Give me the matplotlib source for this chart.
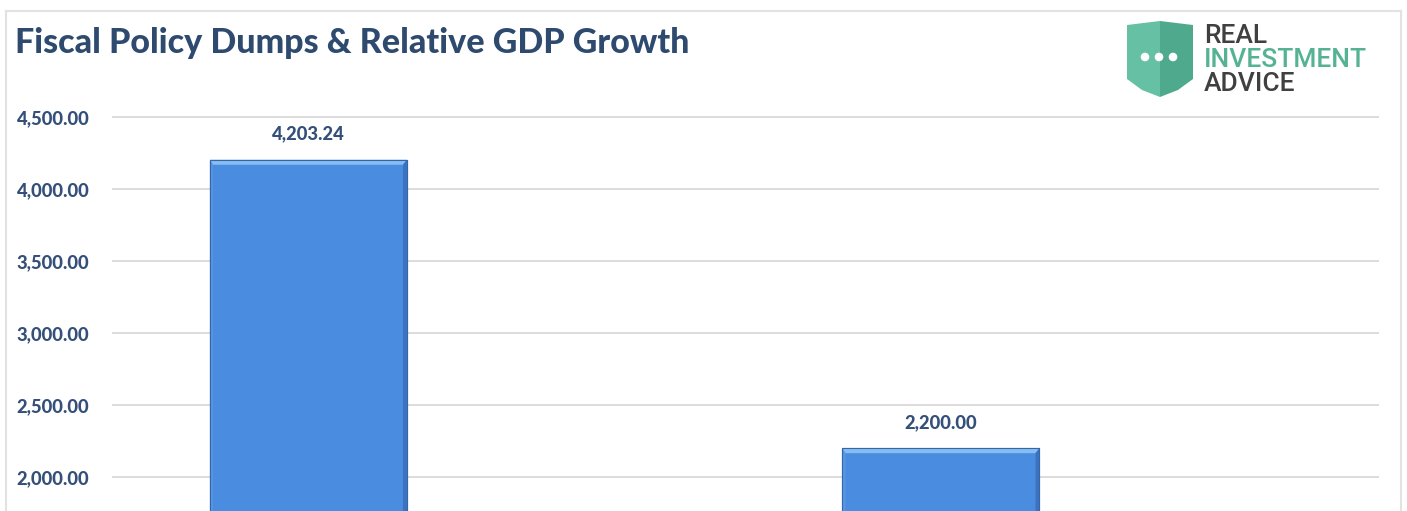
import matplotlib
matplotlib.use("Agg")
import matplotlib.pyplot as plt
from matplotlib.patches import Polygon, Rectangle, Circle

# ---- data ----
categories = ["Period 1", "Period 2"]
values = [4203.24, 2200.00]
value_labels = ["4,203.24", "2,200.00"]
yticks = [2000, 2500, 3000, 3500, 4000, 4500]
ytick_labels = ["2,000.00", "2,500.00", "3,000.00", "3,500.00", "4,000.00", "4,500.00"]
title = "Fiscal Policy Dumps & Relative GDP Growth"

W, H = 1407, 511
DPI = 100
fig = plt.figure(figsize=(W / DPI, H / DPI), dpi=DPI)
fig.patch.set_facecolor("white")

TXT = "#34507A"
TITLE_C = "#2E4A6F"

# pixel geometry of the plot area
ax_l, ax_r = 113, 1378
ax_top, ax_bot = 100, 511
def v_at(ypx):
    return 4500 - (ypx - 117) * 500 / 72

ax = fig.add_axes([ax_l / W, 1 - ax_bot / H, (ax_r - ax_l) / W, (ax_bot - ax_top) / H])
ax.set_xlim(-0.5, len(categories) - 0.5)
ax.set_ylim(v_at(ax_bot), v_at(ax_top))
ax.set_facecolor("none")
for s in ax.spines.values():
    s.set_visible(False)
ax.set_xticks([])
ax.set_yticks(yticks)
ax.set_yticklabels(ytick_labels)
ax.tick_params(axis="y", length=0, pad=17, labelsize=13.2, labelcolor=TXT)
for t in ax.get_yticklabels():
    t.set_fontfamily("Lato")
    t.set_fontweight("black")
for yv in yticks:
    ax.axhline(yv, color="#DCDCDC", lw=1.4, zorder=0, clip_on=False)

# bars
bw = 0.3115
off = -0.191
xs = [i + off for i in range(len(categories))]
bars = ax.bar(xs, values, width=bw, color="#4A8DE0", edgecolor="#3566AA", linewidth=0.8, zorder=2)

# bevel effect
px_x = (len(categories)) / (ax_r - ax_l)
px_y = 500 / 72
for b in bars:
    x0, x1 = b.get_x(), b.get_x() + b.get_width()
    top = b.get_height()
    bot = v_at(ax_bot) - 50
    dy = 5 * px_y
    dxl, dxr = 3 * px_x, 4 * px_x
    ax.add_patch(Polygon([(x0, top), (x1, top), (x1 - dxr, top - dy), (x0 + dxl, top - dy)],
                         closed=True, facecolor="#86BEF1", edgecolor="none", zorder=3))
    ax.add_patch(Polygon([(x0, top), (x0 + dxl, top - dy), (x0 + dxl, bot), (x0, bot)],
                         closed=True, facecolor="#5696E2", edgecolor="none", zorder=3))
    ax.add_patch(Polygon([(x1, top), (x1 - dxr, top - dy), (x1 - dxr, bot), (x1, bot)],
                         closed=True, facecolor="#3C73C0", edgecolor="none", zorder=3))
    ax.add_patch(Rectangle((x0, bot), x1 - x0, top - bot, fill=False, edgecolor="#3566AA",
                           lw=0.8, zorder=4))

for b, lab in zip(bars, value_labels):
    ax.annotate(lab, (b.get_x() + b.get_width() / 2, b.get_height()),
                xytext=(0, 18.5), textcoords="offset points", ha="center", va="center",
                fontsize=13.2, fontweight="black", fontfamily="Lato", color=TXT, zorder=5)

# border of chart box
for xa, ya in (([6, 6], [511, 11]), ([1401, 1401], [511, 11]), ([6, 1401], [11, 11])):
    fig.add_artist(plt.Line2D([x / W for x in xa], [1 - y / H for y in ya],
                              color="#E2E2E2", lw=1.5, transform=fig.transFigure))

# title
fig.text(15 / W, 1 - 43 / H, title, ha="left", va="center", fontsize=24.5,
         fontweight="black", fontfamily="Lato", color=TITLE_C)

# logo
def fp(x, y):
    return (x / W, 1 - y / H)

left_half = [fp(1127, 25), fp(1160, 21), fp(1160, 97), fp(1142, 90), fp(1127, 79)]
right_half = [fp(1160, 21), fp(1193, 25), fp(1193, 79), fp(1178, 90), fp(1160, 97)]
fig.add_artist(Polygon(left_half, closed=True, transform=fig.transFigure,
                       facecolor="#66C0A4", edgecolor="none"))
fig.add_artist(Polygon(right_half, closed=True, transform=fig.transFigure,
                       facecolor="#4FAA8D", edgecolor="none"))
for cx in (1145, 1159, 1173):
    fig.add_artist(Circle((cx / DPI, (H - 57) / DPI), 4.3 / DPI, transform=fig.dpi_scale_trans,
                          facecolor="white", edgecolor="none"))
fig.text(1204 / W, 1 - 36 / H, "REAL", ha="left", va="center", fontsize=19,
         fontweight="medium", fontfamily="Roboto", color="#404040")
fig.text(1204 / W, 1 - 60 / H, "INVESTMENT", ha="left", va="center", fontsize=19,
         fontweight="medium", fontfamily="Roboto", color="#55B393")
fig.text(1204 / W, 1 - 84 / H, "ADVICE", ha="left", va="center", fontsize=19,
         fontweight="medium", fontfamily="Roboto", color="#404040")

fig.savefig("out.png", dpi=DPI, facecolor="white")
